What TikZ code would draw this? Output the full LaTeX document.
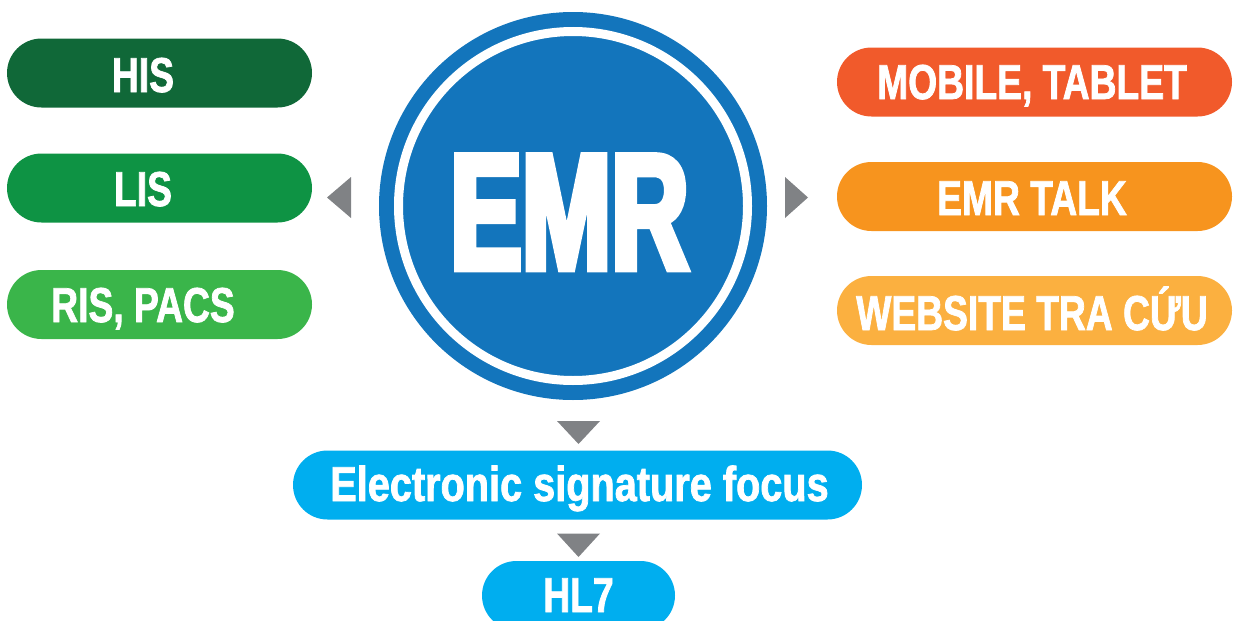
\documentclass[tikz,border=0pt]{standalone}
\usepackage{fontspec}
\setmainfont{Liberation Sans}[FakeStretch=0.76,FakeBold=1.5]
\newfontfamily\lowfont{Liberation Sans}[FakeStretch=0.81,FakeBold=1.5]
\newfontfamily\emrfont{Liberation Sans}[FakeStretch=0.65,FakeBold=4]
\definecolor{hisc}{HTML}{106838}
\definecolor{lisc}{HTML}{0E9344}
\definecolor{risc}{HTML}{3AB54A}
\definecolor{mobc}{HTML}{F15A2B}
\definecolor{talkc}{HTML}{F7941E}
\definecolor{webc}{HTML}{FBB040}
\definecolor{emrc}{HTML}{1375BC}
\definecolor{cyanc}{HTML}{00AEEF}
\definecolor{tric}{HTML}{808285}
\begin{document}
\begin{tikzpicture}[x=1pt,y=-1pt,
  pill/.style={rectangle,rounded corners=34.5pt,minimum height=69pt,inner sep=0pt,draw=none},
  lbl/.style={anchor=base,text=white,inner sep=0pt,font=\fontsize{49}{49}\selectfont\bfseries},
  tri/.style={fill=tric,draw=none}]
\useasboundingbox (0,0) rectangle (1237,621);
% central circle
\node[circle,fill=emrc,minimum size=388pt,inner sep=0pt] (emr) at (573,206) {};
\node[circle,draw=white,line width=9pt,minimum size=349pt,inner sep=0pt] (ring) at (emr.center) {};
\node[anchor=base,text=white,inner sep=0pt,font=\fontsize{165}{165}\emrfont\bfseries] (emrT) at (569.5,269) {EMR};
% left pills
\node[pill,fill=hisc,minimum width=305pt] (his) at (159.5,73) {};
\node[pill,fill=lisc,minimum width=305pt] (lis) at (159.5,188) {};
\node[pill,fill=risc,minimum width=305pt] (ris) at (159.5,304.5) {};
\node[lbl] (hisT) at (143,92) {HIS};
\node[lbl] (lisT) at (143,206) {LIS};
\node[lbl] (risT) at (143,322) {RIS, PACS};
% right pills
\node[pill,fill=mobc,minimum width=395pt] (mob) at (1034.5,82) {};
\node[pill,fill=talkc,minimum width=395pt] (talk) at (1034.5,196.5) {};
\node[pill,fill=webc,minimum width=395pt] (web) at (1034.5,310.5) {};
\node[lbl] (mobT) at (1032,99) {MOBILE, TABLET};
\node[lbl] (talkT) at (1032,215) {EMR TALK};
\node[lbl] (webT) at (1032,330) {WEBSITE TRA CỨU};
% bottom pills
\node[pill,fill=cyanc,minimum width=569pt] (esig) at (577.5,485) {};
\node[lbl,font=\fontsize{49}{49}\lowfont\bfseries] (esigT) at (579.5,501) {Electronic signature focus};
\node[pill,fill=cyanc,minimum width=193pt] (hl) at (578.5,595.5) {};
\node[lbl] (hlT) at (578.5,612) {HL7};
% triangles
\fill[tri] (327,197.5) -- (351,177) -- (351,218) -- cycle;
\fill[tri] (808,197.5) -- (785,177) -- (785,218) -- cycle;
\fill[tri] (557,421) -- (600,421) -- (578.5,444) -- cycle;
\fill[tri] (557,533.5) -- (600,533.5) -- (578.5,557) -- cycle;
\end{tikzpicture}
\end{document}
